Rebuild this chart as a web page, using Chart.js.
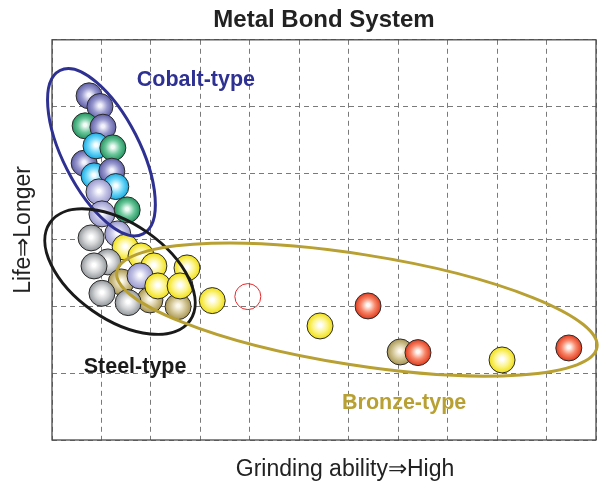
<!DOCTYPE html>
<html>
<head>
<meta charset="utf-8">
<script src="https://cdn.jsdelivr.net/npm/chart.js@4.4.0/dist/chart.umd.min.js"></script>
<style>
  body { margin: 0; background: #fff; }
</style>
</head>
<body>
<canvas id="chart" width="604" height="484"></canvas>
<script>
// bond samples, in drawing order (later ones sit on top of earlier ones)
const sampleX = [0.75, 0.97, 0.67, 1.03, 0.65, 0.89, 1.23, 0.85, 1.21, 1.29, 0.95, 1.52, 1.01,
                 1.33, 0.79, 1.48, 1.80, 1.13, 0.85, 2.06, 2.73, 1.40, 1.98, 2.55, 1.78, 2.14, 2.59, 1.01, 1.54, 3.24,
                 5.42, 6.39, 7.04, 7.40, 9.10, 10.45];
const sampleY = [5.16, 5.00, 4.71, 4.69, 4.15, 4.41, 4.38, 3.96, 4.03, 3.80, 3.72, 3.45, 3.39,
                 3.09, 3.03, 2.89, 2.76, 2.67, 2.61, 2.61, 2.58, 2.37, 2.10, 2.00, 2.46, 2.31, 2.31, 2.20, 2.06, 2.09,
                 1.71, 2.01, 1.32, 1.31, 1.20, 1.38];
const sampleKind = ['purple', 'purple', 'green', 'purple', 'purple', 'cyan', 'green', 'cyan', 'purple', 'cyan', 'lilac', 'green', 'lilac',
                    'lilac', 'gray', 'yellow', 'yellow', 'gray', 'gray', 'yellow', 'yellow', 'olive', 'olive', 'olive', 'lilac', 'yellow', 'yellow', 'gray', 'gray', 'yellow',
                    'yellow', 'red', 'olive', 'red', 'yellow', 'red'];

// the single open (unfilled) sample
const openX = [3.96];
const openY = [2.15];

// groups: long axis ends of each ring (data units), short/long ratio, label spot
const groupNames = ['Cobalt-type', 'Steel-type', 'Bronze-type'];
const ringX1 = [0.16, -0.04, 1.31];
const ringY1 = [5.54, 3.26, 2.52];
const ringX2 = [1.84, 2.79, 11.02];
const ringY2 = [3.09, 1.79, 1.39];
const ringRatio = [0.42, 0.56, 0.228];
const labelX = [2.91, 1.68, 7.12];
const labelY = [5.4, 1.1, 0.56];
const groupColor = ['#2e3192', '#1a1a1a', '#b8a032'];

const FONT = "'Liberation Sans', Arial, Helvetica, sans-serif";
const R = 13;

const sphereColors = {
  purple: ['#f2f2fb', '#9a9ad0', '#5e5ea4'],
  lilac:  ['#fafaff', '#c4c4e6', '#9898cc'],
  green:  ['#f2fbf6', '#6cc89c', '#23925f'],
  cyan:   ['#f8feff', '#74dafa', '#18aae0'],
  gray:   ['#ffffff', '#d0d2d4', '#92969a'],
  yellow: ['#ffffff', '#fcf48a', '#f0df10'],
  olive:  ['#fbf8ec', '#d5c99a', '#a69452'],
  red:    ['#fff8f4', '#f8876a', '#e03a1c']
};

function sphereFill(c) {
  if (c.type !== 'data' || !c.parsed) return '#999';
  const cols = sphereColors[sampleKind[c.dataIndex]];
  const px = c.chart.scales.x.getPixelForValue(c.parsed.x);
  const py = c.chart.scales.y.getPixelForValue(c.parsed.y);
  if (!isFinite(px) || !isFinite(py)) return cols[1];
  const g = c.chart.ctx.createRadialGradient(px, py - 1, 0, px, py, R);
  g.addColorStop(0, cols[0]);
  g.addColorStop(0.12, cols[0]);
  g.addColorStop(0.55, cols[1]);
  g.addColorStop(1, cols[2]);
  return g;
}

const frameAndRings = {
  id: 'frameAndRings',
  beforeDatasetsDraw(chart) {
    const { ctx, chartArea: a } = chart;
    ctx.save();
    ctx.strokeStyle = '#4a4a4a';
    ctx.lineWidth = 1.3;
    ctx.strokeRect(a.left, a.top, a.right - a.left, a.bottom - a.top);
    ctx.restore();
  },
  afterDatasetsDraw(chart) {
    const { ctx, scales: { x, y } } = chart;
    ctx.save();
    groupNames.forEach((name, i) => {
      const x1 = x.getPixelForValue(ringX1[i]), y1 = y.getPixelForValue(ringY1[i]);
      const x2 = x.getPixelForValue(ringX2[i]), y2 = y.getPixelForValue(ringY2[i]);
      const half = Math.hypot(x2 - x1, y2 - y1) / 2;
      ctx.beginPath();
      ctx.ellipse((x1 + x2) / 2, (y1 + y2) / 2, half, half * ringRatio[i], Math.atan2(y2 - y1, x2 - x1), 0, Math.PI * 2);
      ctx.strokeStyle = groupColor[i];
      ctx.lineWidth = 3;
      ctx.stroke();

      ctx.fillStyle = groupColor[i];
      ctx.font = 'bold 21.5px ' + FONT;
      ctx.textAlign = 'center';
      ctx.textBaseline = 'middle';
      ctx.fillText(name, x.getPixelForValue(labelX[i]), y.getPixelForValue(labelY[i]));
    });
    ctx.restore();
  },
  afterDraw(chart) {
    // axis titles sit a little off the plot's centre lines in the original
    const { ctx, chartArea: a } = chart;
    ctx.save();
    ctx.fillStyle = '#222';
    ctx.font = '23px ' + FONT;
    ctx.textAlign = 'center';
    ctx.textBaseline = 'middle';
    ctx.fillText('Grinding ability⇒High', (a.left + a.right) / 2 + 21, a.bottom + 30);
    ctx.translate(a.left - 28, (a.top + a.bottom) / 2 - 10);
    ctx.rotate(-Math.PI / 2);
    ctx.fillText('Life⇒Longer', 0, 0);
    ctx.restore();
  }
};

const gridOpts = { color: '#7a7a7a', lineWidth: 1, drawTicks: false };

new Chart(document.getElementById('chart'), {
  type: 'bubble',
  data: {
    datasets: [{
      data: sampleX.map((v, i) => ({ x: v, y: sampleY[i] })),
      radius: R,
      hoverRadius: 0,
      borderWidth: 1,
      borderColor: '#2b2b2b',
      backgroundColor: sphereFill
    }, {
      data: openX.map((v, i) => ({ x: v, y: openY[i] })),
      radius: R,
      hoverRadius: 0,
      borderWidth: 1,
      borderColor: '#e8262a',
      backgroundColor: 'rgba(255,255,255,0)'
    }]
  },
  options: {
    responsive: false,
    animation: false,
    events: [],
    layout: { autoPadding: false, padding: { left: 0, right: 8, top: 0, bottom: 0 } },
    scales: {
      x: {
        type: 'linear', min: 0, max: 11,
        ticks: { display: false, stepSize: 1 },
        grid: gridOpts,
        border: { display: false, dash: [5, 4] },
        afterFit: s => { s.height = 44; }
      },
      y: {
        type: 'linear', min: 0, max: 6,
        ticks: { display: false, stepSize: 1 },
        grid: gridOpts,
        border: { display: false, dash: [5, 4] },
        afterFit: s => { s.width = 52; }
      }
    },
    plugins: {
      legend: { display: false },
      tooltip: { enabled: false },
      title: {
        display: true, fullSize: false, text: 'Metal Bond System', color: '#222',
        font: { family: FONT, size: 24, weight: 'bold' },
        padding: { top: 6, bottom: 5 }
      }
    }
  },
  plugins: [frameAndRings]
});
</script>
</body>
</html>
